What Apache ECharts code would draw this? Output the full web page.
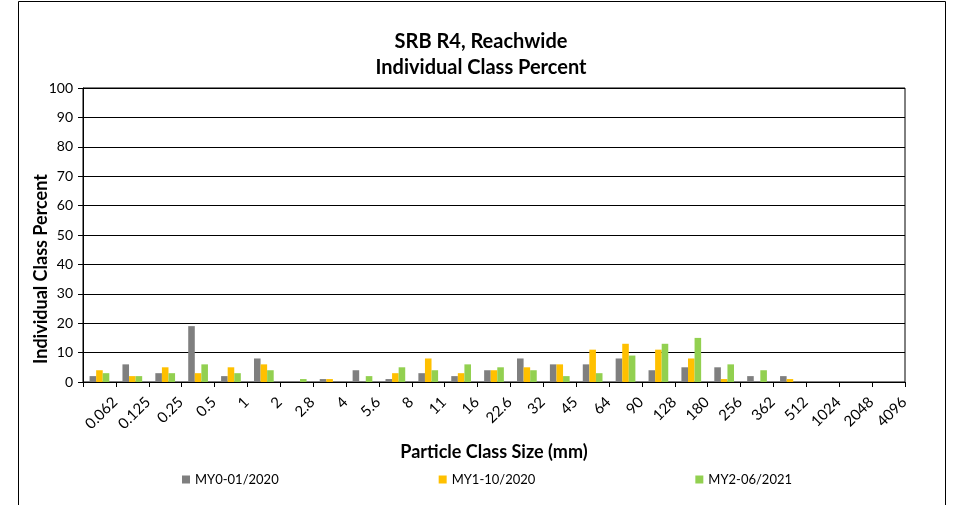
<!DOCTYPE html>
<html>
<head>
<meta charset="utf-8">
<script src="https://cdn.jsdelivr.net/npm/echarts@6/dist/echarts.min.js"></script>
<style>
  html, body { margin: 0; padding: 0; background: #fff; }
  #chart { width: 962px; height: 505px; }
</style>
</head>
<body>
<div id="chart"></div>
<script>
// 粒径分类 (mm)
const categories = ['0.062', '0.125', '0.25', '0.5', '1', '2', '2.8', '4', '5.6', '8', '11', '16',
  '22.6', '32', '45', '64', '90', '128', '180', '256', '362', '512', '1024', '2048', '4096'];
const my0 = [2, 6, 3, 19, 2, 8, 0, 1, 4, 1, 3, 2, 4, 8, 6, 6, 8, 4, 5, 5, 2, 2, 0, 0, 0];
const my1 = [4, 2, 5, 3, 5, 6, 0, 1, 0, 3, 8, 3, 4, 5, 6, 11, 13, 11, 8, 1, 0, 1, 0, 0, 0];
const my2 = [3, 2, 3, 6, 3, 4, 1, 0, 2, 5, 4, 6, 5, 4, 2, 3, 9, 13, 15, 6, 4, 0, 0, 0, 0];
const seriesNames = ['MY0-01/2020', 'MY1-10/2020', 'MY2-06/2021'];
const colors = ['#7f7f7f', '#ffc000', '#92d050'];

const font = 'Lato, "Open Sans", sans-serif';
const chart = echarts.init(document.getElementById('chart'));

const option = {
    animation: false,
    color: colors,
    textStyle: { fontFamily: font },
    title: {
        text: 'SRB R4, Reachwide\nIndividual Class Percent',
        left: 'center',
        top: 24,
        textStyle: { fontSize: 20, fontWeight: 'bold', color: '#000', lineHeight: 26, fontFamily: font }
    },
    graphic: [{
        type: 'rect',
        shape: { x: 18.5, y: 1.5, width: 927, height: 510 },
        style: { fill: 'none', stroke: '#000', lineWidth: 1 },
        silent: true
    }],
    grid: {
        left: 83, right: 57, top: 88, bottom: 123,
        show: true, borderColor: '#000', borderWidth: 1
    },
    legend: {
        data: seriesNames,
        bottom: 14,
        left: 177,
        itemWidth: 8, itemHeight: 8, itemGap: 160,
        icon: 'rect',
        textStyle: { fontSize: 13, color: '#000', fontFamily: font }
    },
    xAxis: {
        type: 'category',
        data: categories,
        name: 'Particle Class Size (mm)',
        nameLocation: 'middle',
        nameGap: 61,
        nameMoveOverlap: false,
        nameTextStyle: { fontSize: 18, fontWeight: 'bold', color: '#000' },
        axisLine: { lineStyle: { color: '#000' } },
        axisTick: { show: true, length: 5, alignWithLabel: false, lineStyle: { color: '#000' } },
        axisLabel: {
            rotate: 45, interval: 0, fontSize: 15, color: '#000', margin: 2,
            verticalAlign: 'top', lineHeight: 44
        }
    },
    yAxis: {
        type: 'value',
        min: 0, max: 100, interval: 10,
        name: 'Individual Class Percent',
        nameLocation: 'middle',
        nameGap: 33,
        nameMoveOverlap: false,
        nameTextStyle: { fontSize: 18, fontWeight: 'bold', color: '#000', padding: [0, 68, 0, 0] },
        axisLine: { show: true, lineStyle: { color: '#000' } },
        axisTick: { show: true, length: 5, lineStyle: { color: '#000' } },
        axisLabel: { fontSize: 14, color: '#000', margin: 10 },
        splitLine: { show: true, lineStyle: { color: '#000', width: 1 } }
    },
    series: seriesNames.map((name, i) => ({
        name: name,
        type: 'bar',
        data: [my0, my1, my2][i],
        barGap: '0%',
        barCategoryGap: '40%'
    }))
};
chart.setOption(option);
</script>
</body>
</html>
